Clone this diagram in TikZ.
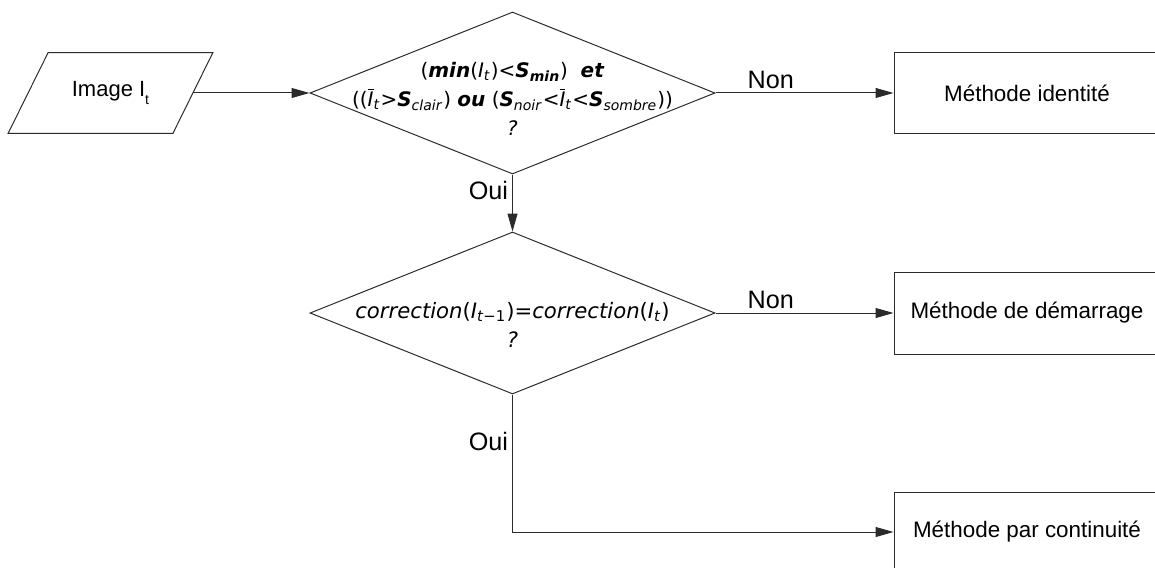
\documentclass[tikz,border=0pt]{standalone}
\usepackage{fontspec}
\setmainfont{Liberation Sans}
\newfontfamily\formfont{DejaVu Sans}
\usetikzlibrary{arrows.meta,positioning,shapes.geometric}
\definecolor{ink}{HTML}{2B2B2B}
\newcommand{\vi}[1]{\textit{#1}}
\newcommand{\vb}[1]{\textbf{\textit{#1}}}
\newcommand{\sub}[1]{\textsubscript{#1}}
\newcommand{\Ibar}{\ensuremath{\overline{\hbox{\textit{I}}}}}
\tikzset{
  test/.style={draw=ink, line width=0.5pt, shape=diamond, inner sep=0pt, minimum width=202.5pt, minimum height=81pt},
  methode/.style={draw=ink, line width=0.5pt, rectangle, minimum width=133pt, minimum height=40pt, font=\fontsize{11.2}{13}\selectfont},
  entree/.style={rectangle, minimum width=82pt, minimum height=40pt, font=\fontsize{11}{13}\selectfont},
  fleche/.style={draw=ink, line width=0.5pt, -{Triangle[length=9pt,width=5pt]}},
  choix/.style={font=\fontsize{12.6}{15}\selectfont, inner sep=2pt},
  formule/.style={font=\formfont\fontsize{10.6}{14.5}\selectfont, align=center, inner sep=0pt},
}

\begin{document}
\begin{tikzpicture}[x=0.5pt,y=-0.5pt]
  \useasboundingbox (0,0) rectangle (1155,567);
  \clip (0,0) rectangle (1155,567);
  % entree et tests
  \node[entree] (img) at (110.5,93) {Image I\raisebox{-4pt}{\scriptsize t}};
  \draw[ink, line width=0.5pt] ([xshift=-10pt]img.south west) -- ([xshift=10pt]img.north west)
    -- ([xshift=10pt]img.north east) -- ([xshift=-10pt]img.south east) -- cycle;
  \node[test] (t1) at (512.5,93) {};
  \node[test] (t2) at (512.5,313) {};
  \node[formule, font=\formfont\fontsize{10}{14.5}\selectfont] (f1) at ([yshift=-3pt]t1.center) {(\vb{min}(\vi{I}\sub{\vi{t}})<\vb{S}\sub{\vb{min}})\ \ \vb{et}\\
    ((\Ibar\sub{\vi{t}}>\vb{S}\sub{\vi{clair}})\ \vb{ou}\ (\vb{S}\sub{\vi{noir}}<\Ibar\sub{\vi{t}}<\vb{S}\sub{\vi{sombre}}))\\
    \vi{?}};
  \node[formule] (f2) at ([yshift=-6pt]t2.center) {\vi{correction}(\vi{I}\sub{\vi{t}−1})=\vi{correction}(\vi{I}\sub{\vi{t}})\\ \vi{?}};
  % methodes
  \node[methode] (m1) at (1027,93) {Méthode identité};
  \node[methode, minimum height=41pt] (m2) at (1027,313) {Méthode de démarrage};
  \node[methode] (m3) at (1027,532) {Méthode par continuité};
  % fleches
  \draw[fleche] (img.east) -- (t1.west);
  \draw[fleche] (t1.east) -- node[choix, pos=0.31, anchor=south] (non1) {Non} (m1.west);
  \draw[fleche] (t1.south) -- node[choix, pos=0.28, anchor=east] (oui1) {Oui} (t2.north);
  \draw[fleche] (t2.east) -- node[choix, pos=0.31, anchor=south] (non2) {Non} (m2.west);
  \draw[fleche] (t2.south) |- node[choix, pos=0.17, anchor=east] (oui2) {Oui} (m3.west);
\end{tikzpicture}
\end{document}
